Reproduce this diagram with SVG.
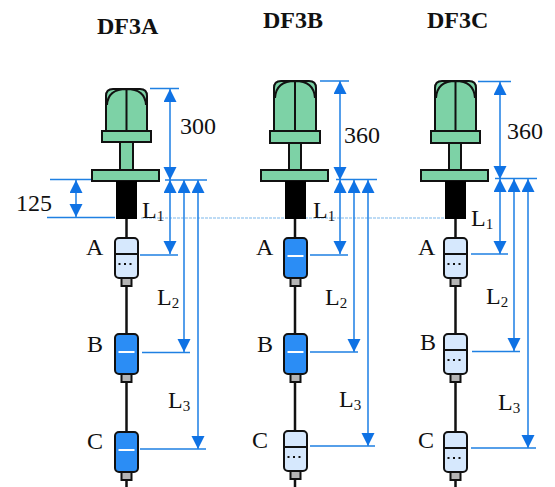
<svg xmlns="http://www.w3.org/2000/svg" width="555" height="487" viewBox="0 0 555 487">
<style>
text{font-family:"Liberation Serif","Times New Roman",serif;font-size:24px;fill:#111}
.title{font-weight:bold;font-size:24px}
.sub{font-size:15px}
.g{fill:#7dd2a6;stroke:#111;stroke-width:2}
.k{fill:none;stroke:#111;stroke-width:2}
.rod{stroke:#111;stroke-width:2.500}
.d{stroke:#1f80e2;stroke-width:1.500;fill:none}
.v{stroke:#2a86e6;stroke-width:1.600;fill:none}
.blue{fill:#2b8df5;stroke:#111;stroke-width:2}
.light{fill:#d6e8fd;stroke:#111;stroke-width:2}
.tip{fill:#b5b5b5;stroke:#111;stroke-width:2}
</style>
<defs>
<marker id="a" markerUnits="userSpaceOnUse" markerWidth="14" markerHeight="14" refX="13" refY="6.500" orient="auto-start-reverse"><path d="M0 0L13 6.500L0 13Z" fill="#0f72e4"/></marker>
<g id="floatB"><rect class="tip" x="-5" y="38" width="10" height="10"/><rect class="blue" x="-11.500" y="0" width="23" height="40" rx="4"/><line x1="-8" x2="8" y1="18" y2="18" stroke="#fff" stroke-width="2"/></g>
<g id="floatL"><rect class="tip" x="-5" y="38" width="10" height="10"/><rect class="light" x="-11.500" y="0" width="23" height="40" rx="4"/><line class="k" x1="-11.500" x2="11.500" y1="16" y2="16"/><line x1="-8" x2="8" y1="26" y2="26" stroke="#111" stroke-width="2" stroke-dasharray="2 3.500"/></g>
</defs>
<line id="datum" x1="141" y1="218" x2="445" y2="218" stroke="#7db8ec" stroke-width="1.200" stroke-dasharray="3 1"/>
<g id="connectors">
<path class="d" d="M150 88.500H179M50 179.500H92M47 217.500H115M165 180H207M140 255H178M142 352.500H190M140 449H206"/>
<path class="v" d="M170 89V180" marker-start="url(#a)" marker-end="url(#a)"/>
<path class="v" d="M76 180V217" marker-start="url(#a)" marker-end="url(#a)"/>
<path class="v" d="M170 180V254" marker-start="url(#a)" marker-end="url(#a)"/>
<path class="v" d="M184 180V352" marker-start="url(#a)" marker-end="url(#a)"/>
<path class="v" d="M198 180V449" marker-start="url(#a)" marker-end="url(#a)"/>
<path class="d" d="M320 81H349M336 179.500H377M310 255H348M310 352H358M310 446H375"/>
<path class="v" d="M340 81V180" marker-start="url(#a)" marker-end="url(#a)"/>
<path class="v" d="M340 180V254" marker-start="url(#a)" marker-end="url(#a)"/>
<path class="v" d="M354 180V352" marker-start="url(#a)" marker-end="url(#a)"/>
<path class="v" d="M368 180V446" marker-start="url(#a)" marker-end="url(#a)"/>
<path class="d" d="M478 81.500H511M495 178.500H537M471 254H508M472 351.500H520M471 448H536"/>
<path class="v" d="M500 82V179" marker-start="url(#a)" marker-end="url(#a)"/>
<path class="v" d="M500 179V254" marker-start="url(#a)" marker-end="url(#a)"/>
<path class="v" d="M514 179V351" marker-start="url(#a)" marker-end="url(#a)"/>
<path class="v" d="M528 179V448" marker-start="url(#a)" marker-end="url(#a)"/>
</g>
<g id="df3a">
<line class="rod" x1="126.500" y1="219" x2="126.500" y2="487"/>
<path class="g" d="M106 131V96Q106 89 113 89H140Q147 89 147 96V131Z"/>
<path class="k" d="M107 105Q108 89 126.500 89Q145 89 146 105M126.500 89V131"/>
<rect class="g" x="102" y="131" width="49" height="11"/><rect class="g" x="120" y="142" width="13" height="28"/><rect class="g" x="92" y="170" width="67" height="11"/>
<rect x="116" y="181" width="21" height="38" fill="#000"/>
<use href="#floatL" x="126.500" y="238"/><use href="#floatB" x="126.500" y="334"/><use href="#floatB" x="126.500" y="432"/>
<text class="title" x="97" y="34">DF3A</text>
<text x="180" y="134">300</text><text x="16" y="211">125</text>
<text x="142" y="218">L<tspan class="sub" dy="3">1</tspan></text>
<text x="86" y="255">A</text><text x="87" y="352">B</text><text x="87" y="449">C</text>
<text x="157" y="305">L<tspan class="sub" dy="3">2</tspan></text>
<text x="168" y="408">L<tspan class="sub" dy="3">3</tspan></text>
</g>
<g id="df3b">
<line class="rod" x1="295" y1="219" x2="295" y2="487"/>
<path class="g" d="M274 131V88Q274 81 281 81H309Q316 81 316 88V131Z"/>
<path class="k" d="M275 98Q276 81 295 81Q314 81 315 98M295 81V131"/>
<rect class="g" x="270" y="131" width="50" height="12"/><rect class="g" x="289" y="143" width="12" height="27"/><rect class="g" x="261" y="170" width="67" height="11"/>
<rect x="285" y="181" width="21" height="38" fill="#000"/>
<use href="#floatB" x="295.500" y="238"/><use href="#floatB" x="295.500" y="334"/><use href="#floatL" x="295.500" y="431"/>
<text class="title" x="263" y="28">DF3B</text>
<text x="344" y="143">360</text>
<text x="313" y="218">L<tspan class="sub" dy="3">1</tspan></text>
<text x="256" y="255">A</text><text x="257" y="352">B</text><text x="252" y="448">C</text>
<text x="325" y="305">L<tspan class="sub" dy="3">2</tspan></text>
<text x="339" y="407">L<tspan class="sub" dy="3">3</tspan></text>
</g>
<g id="df3c">
<line class="rod" x1="455.500" y1="219" x2="455.500" y2="487"/>
<path class="g" d="M435 131V88Q435 81 442 81H469Q476 81 476 88V131Z"/>
<path class="k" d="M436 98Q437 81 455.500 81Q474 81 475 98M455.500 81V131"/>
<rect class="g" x="431" y="131" width="49" height="12"/><rect class="g" x="449" y="143" width="12" height="27"/><rect class="g" x="421" y="170" width="67" height="11"/>
<rect x="445" y="181" width="21" height="38" fill="#000"/>
<use href="#floatL" x="455.500" y="238"/><use href="#floatL" x="455.500" y="334"/><use href="#floatL" x="455.500" y="432"/>
<text class="title" x="427" y="28">DF3C</text>
<text x="507" y="139">360</text>
<text x="471" y="226">L<tspan class="sub" dy="3">1</tspan></text>
<text x="418" y="255">A</text><text x="420" y="350">B</text><text x="418" y="448">C</text>
<text x="486" y="304">L<tspan class="sub" dy="3">2</tspan></text>
<text x="498" y="410">L<tspan class="sub" dy="3">3</tspan></text>
</g>
</svg>
